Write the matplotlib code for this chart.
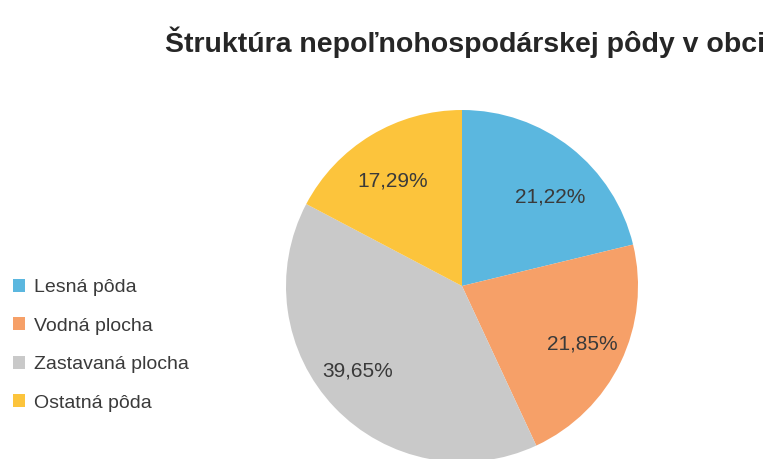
import matplotlib
matplotlib.use("Agg")
import matplotlib.pyplot as plt
from matplotlib import font_manager

categories = ["Lesná pôda", "Vodná plocha", "Zastavaná plocha", "Ostatná pôda"]
values = [21.22, 21.85, 39.65, 17.29]
colors = ["#5BB7DF", "#F6A068", "#C9C9C9", "#FCC43C"]
# small label nudges (fraction of radius) to mimic the original label placement
label_nudge = [(0.03, -0.09), (0.0, 0.0), (-0.045, 0.04), (0.0, -0.055)]

names = {f.name for f in font_manager.fontManager.ttflist}
fam = ["Liberation Sans Narrow", "DejaVu Sans"] if "Liberation Sans Narrow" in names else ["Liberation Sans", "DejaVu Sans"]
plt.rcParams['font.family'] = fam

W, H = 767, 459
fig = plt.figure(figsize=(W / 100, H / 100), dpi=100)
fig.patch.set_facecolor("white")

cx, cy, r = 462, 459 - 286, 176
ax = fig.add_axes([(cx - r) / W, (cy - r) / H, 2 * r / W, 2 * r / H])
wedges, texts, autotexts = ax.pie(
    values, colors=colors, startangle=90, counterclock=False,
    autopct=lambda p: f"{p:.2f}%".replace(".", ","), pctdistance=0.76,
    textprops=dict(fontsize=15, color="#3a3a3a"),
    wedgeprops=dict(linewidth=0), radius=1.0)
for w in wedges:
    w.set_clip_on(False)
for t, (dx, dy) in zip(autotexts, label_nudge):
    x, y = t.get_position()
    t.set_position((x + dx, y + dy))
ax.set_xlim(-1, 1)
ax.set_ylim(-1, 1)
ax.set_aspect("equal")
ax.axis("off")

fig.text(765 / W, 1 - 42 / H, "Štruktúra nepoľnohospodárskej pôdy v obci",
         ha="right", va="center", fontsize=20.5, fontweight="bold", color="#262626")

leg = fig.legend(wedges, categories, loc="upper left", bbox_to_anchor=(5 / W, 1 - 271 / H),
                 frameon=False, fontsize=14, handlelength=0.65, handleheight=0.65,
                 handletextpad=0.45, labelspacing=1.09, borderaxespad=0)
for t in leg.get_texts():
    t.set_color("#3a3a3a")

fig.savefig("out.png", dpi=100, facecolor="white")
